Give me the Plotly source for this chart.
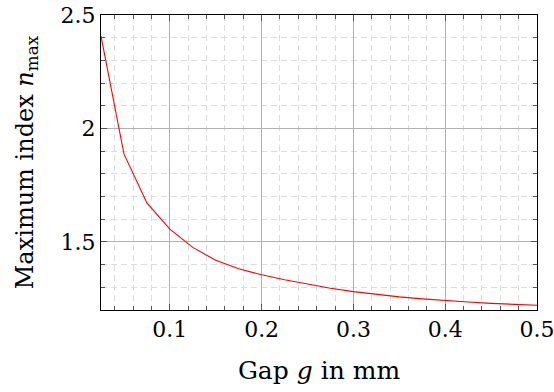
import plotly.graph_objects as go

gap_mm = [0.025, 0.05, 0.075, 0.1, 0.125, 0.15, 0.175, 0.2, 0.225, 0.25,
          0.275, 0.3, 0.325, 0.35, 0.375, 0.4, 0.425, 0.45, 0.475, 0.5]
n_max = [2.407, 1.888, 1.672, 1.556, 1.476, 1.419, 1.382, 1.355, 1.333, 1.314,
         1.296, 1.281, 1.269, 1.258, 1.249, 1.241, 1.235, 1.229, 1.225, 1.221]

FONT = "DejaVu Serif"

fig = go.Figure()
fig.add_trace(go.Scatter(x=gap_mm, y=n_max, mode="lines",
                         line=dict(color="#ff0000", width=1.1),
                         showlegend=False, hoverinfo="skip"))

axis_common = dict(
    showline=True, linecolor="black", linewidth=1, mirror="allticks",
    ticks="inside", ticklen=6, tickwidth=1, tickcolor="#555555",
    showgrid=True, gridcolor="#b0b0b0", gridwidth=1,
    zeroline=False, automargin=False, ticklabeloverflow="allow",
    tickfont=dict(family=FONT, size=22, color="black"),
)

fig.update_xaxes(
    **axis_common,
    range=[0.025, 0.5], tick0=0, dtick=0.1, tickformat=".1f",
    minor=dict(tick0=0, dtick=0.02, ticks="inside", ticklen=4, tickcolor="#555555",
               showgrid=True, gridcolor="#dcdcdc", griddash="6px,4px", gridwidth=1),
    title=dict(text="Gap <i>g</i> in mm", font=dict(family=FONT, size=25, color="black"),
               standoff=20),
)
fig.update_yaxes(
    **axis_common,
    range=[1.2, 2.5], tick0=0, dtick=0.5, tickvals=[1.5, 2.0, 2.5], ticktext=["1.5", "2", "2.5"],
    minor=dict(tick0=0, dtick=0.1, ticks="inside", ticklen=4, tickcolor="#555555",
               showgrid=True, gridcolor="#dcdcdc", griddash="6px,4px", gridwidth=1),
    title=dict(text="Maximum index <i>n</i><sub>max</sub>",
               font=dict(family=FONT, size=24, color="black"), standoff=20),
)

fig.update_layout(
    width=554, height=392,
    margin=dict(l=101, r=17, t=15, b=82),
    paper_bgcolor="white", plot_bgcolor="white",
)

fig.write_html("out.html", config={"displayModeBar": False},
               post_script="document.body.style.margin='0';document.body.style.padding='0';")
